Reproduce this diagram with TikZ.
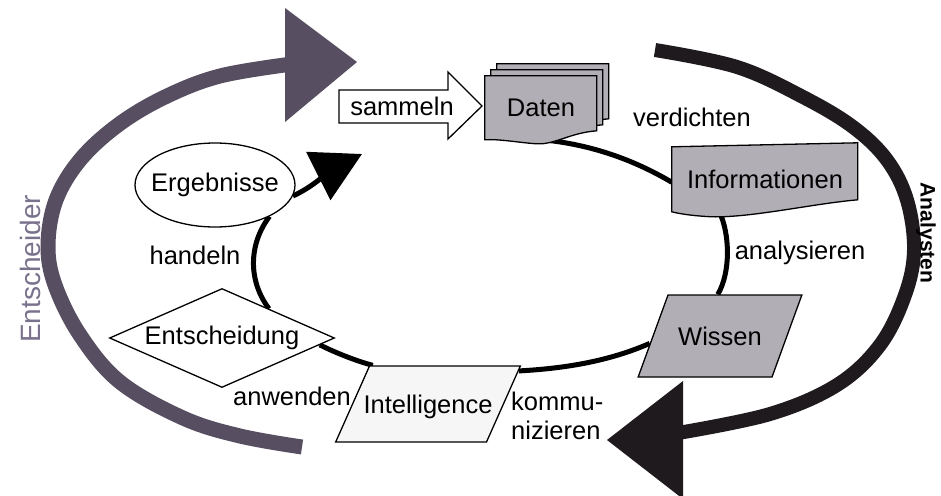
\documentclass[tikz,border=0pt]{standalone}
\usepackage{fontspec}
\setmainfont{Liberation Sans}
\usetikzlibrary{shapes.geometric,arrows.meta,calc}
\pgfdeclarelayer{bg}
\pgfdeclarelayer{shapes}
\pgfsetlayers{bg,shapes,main}
\definecolor{decider}{RGB}{88,78,98}
\definecolor{decidertext}{RGB}{122,114,140}
\definecolor{analyst}{RGB}{30,26,30}
\definecolor{docgrey}{RGB}{178,174,182}
\definecolor{palefill}{RGB}{246,246,246}

\begin{document}
\begin{tikzpicture}[x=1pt,y=-1pt,
  lbl/.style={font=\fontsize{25.5}{29}\selectfont, inner sep=0pt},
  outline/.style={draw=black, line width=1.3pt},
  docbox/.style={outline, fill=docgrey},
  cycleline/.style={line width=5pt, black},
  slanted/.style={trapezium, trapezium left angle=#1, trapezium right angle=180-#1},
  bigarc/.style={line width=15pt, line cap=butt}
]
\useasboundingbox (0,0) rectangle (941,495);

% ---- nodes of the cycle ----
\node[lbl] (sammeln) at (402,106) {sammeln};
\node[lbl, minimum width=112, minimum height=64] (daten) at (541,108) {Daten};
\node[lbl] (verdichten) at (692,117) {verdichten};
\node[lbl, minimum width=186, minimum height=64] (info) at (765,179) {Informationen};
\node[lbl] (analysieren) at (800,253) {analysieren};
\node[lbl, slanted=70, docbox, text height=50pt, text depth=32pt] (wissen)
  at (720,336) {\makebox[104pt]{Wissen}};
\node[lbl, align=left, anchor=west] (kommunizieren) at (511,416) {kommu-\\nizieren};
\node[lbl, slanted=66, outline, fill=palefill, text height=47pt, text depth=29pt] (intel)
  at (428,404) {\makebox[117pt]{Intelligence}};
\node[lbl] (anwenden) at (292,396) {anwenden};
\node[lbl, diamond, outline, fill=white, minimum width=225, minimum height=99] (ent) at (222,338) {\makebox[0pt]{Entscheidung}};
\node[lbl] (handeln) at (195,255) {handeln};
\node[lbl, ellipse, outline, fill=white, minimum width=160, minimum height=84] (ergeb) at (215,185) {\makebox[0pt]{Ergebnisse}};
\coordinate (tipin) at (362,154);

% ---- role labels ----
\node[lbl, rotate=90, text=decidertext, font=\fontsize{28}{32}\selectfont] (entscheider) at (30,269) {Entscheider};
\node[lbl, rotate=-90, font=\fontsize{21}{25}\selectfont\bfseries] (analysten) at (926,233) {Analysten};

% ---- document shapes and the block arrow ----
\begin{pgfonlayer}{shapes}
  \foreach \k in {2,1,0} {
    \begin{scope}[shift={($(daten.north west)+(6*\k,-6*\k)$)}]
      \draw[docbox] (0,0) -- (112,0) -- (112,55)
        .. controls (85,57) and (70,69) .. (52,68)
        .. controls (35,67) and (15,63) .. (0,64) -- cycle;
    \end{scope}
  }
  \begin{scope}[shift={(info.north west)}]
    \draw[docbox] (0,0) -- (186,-4) -- (186,53)
      .. controls (140,57) and (80,71) .. (40,70)
      .. controls (20,69) and (8,67) .. (0,65) -- cycle;
  \end{scope}
  \begin{scope}[shift={(sammeln.center)}]
    \draw[outline, fill=white] (-63,-16) -- (46,-16) -- (46,-34) -- (80,0)
      -- (46,33) -- (46,17) -- (-63,17) -- cycle;
  \end{scope}
\end{pgfonlayer}

% ---- background: role arcs and the cycle ----
\begin{pgfonlayer}{bg}
  \fill[white] (0,0) rectangle (941,495);
  % decision makers
  \draw[bigarc, decider] plot[smooth, tension=0.6] coordinates {
    (302,447) (240,436) (183,418) (120,382) (80,335) (55,285) (48,245)
    (56,200) (80,160) (118,125) (165,97) (220,76) (292,64)};
  \fill[decider] (285,8) -- (357,62) -- (285,122) -- cycle;
  % analysts
  \draw[bigarc, line width=14pt, analyst] plot[smooth, tension=0.6] coordinates {
    (655,50) (737,67) (803,97) (853,127) (887,160) (907,200) (914,250)
    (905,295) (880,345) (837,385) (770,414) (678,433)};
  \fill[analyst] (683,381) -- (607,440) -- (683,499) -- cycle;
  % the intelligence cycle
  \draw[cycleline] (daten.280) .. controls +(45,5) and +(-39,-23) .. (info.182);
  \draw[cycleline] (info.215) .. controls +(11,22) and +(13,-22) .. (wissen.93);
  \draw[cycleline] (wissen.186) .. controls +(-41,18) and +(45,-2.4) .. (intel.20);
  \draw[cycleline] (intel.145) .. controls +(-17,-4.5) and +(16,8) .. (ent.-4);
  \draw[cycleline] (ent.32) .. controls +(-21,-28) and +(-21,28) .. (ergeb.-30);
  \draw[cycleline, -{Triangle[length=49pt,width=53pt]}]
    (ergeb.-8) .. controls +(20,-9) and +(-27,13.6) .. (tipin);
\end{pgfonlayer}
\end{tikzpicture}
\end{document}
